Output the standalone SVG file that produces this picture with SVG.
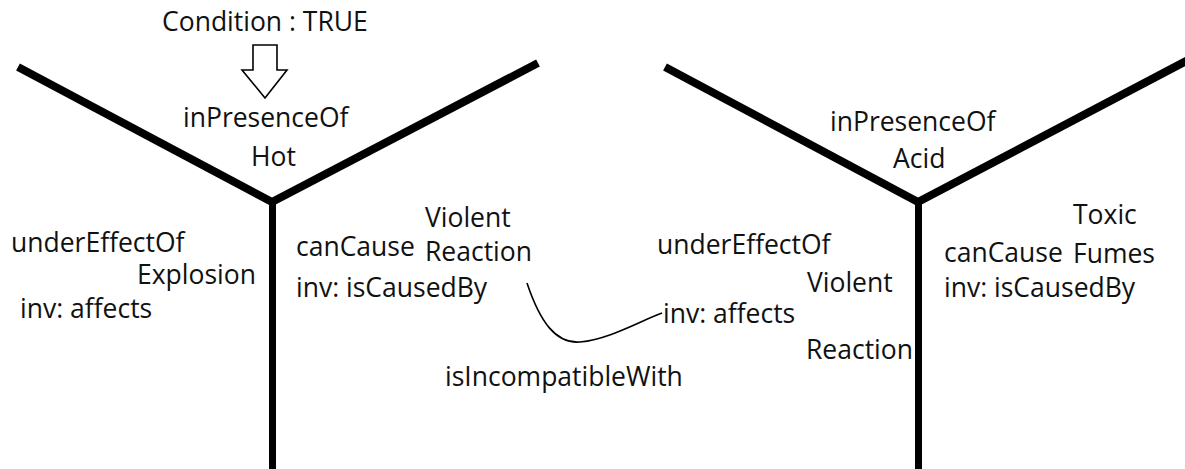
<svg xmlns="http://www.w3.org/2000/svg" width="1185" height="469" viewBox="0 0 1185 469">
  <style>
    .lbl { font-family: "Open Sans", "Liberation Sans", sans-serif; font-size: 26.5px; fill: #111; }
    .branch { fill: none; stroke: #000; stroke-width: 8; stroke-linejoin: miter; stroke-linecap: butt; }
    .stem { fill: none; stroke: #000; stroke-width: 7; }
    .link { fill: none; stroke: #000; stroke-width: 1.6; }
  </style>
  <rect width="1185" height="469" fill="#fff"/>

  <!-- left Y node: Hot / Explosion / Violent Reaction -->
  <g id="node-hot">
    <polyline class="branch" points="18,67 272,202 538,63"/>
    <line class="stem" x1="272.5" y1="200" x2="272.5" y2="469"/>
    <text class="lbl" x="162" y="31">Condition : TRUE</text>
    <polygon points="253,45 277,45 277,70 287,70 265,98 242,70 253,70" fill="#fff" stroke="#000" stroke-width="1.6"/>
    <text class="lbl" x="183" y="127">inPresenceOf</text>
    <text class="lbl" x="251" y="166">Hot</text>
    <text class="lbl" x="11" y="252">underEffectOf</text>
    <text class="lbl" x="137" y="284">Explosion</text>
    <text class="lbl" x="20" y="318">inv: affects</text>
    <text class="lbl" x="296" y="256">canCause</text>
    <text class="lbl" x="296" y="297">inv: isCausedBy</text>
    <text class="lbl" x="425" y="227">Violent</text>
    <text class="lbl" x="425" y="261">Reaction</text>
  </g>

  <!-- right Y node: Acid / Violent Reaction / Toxic Fumes -->
  <g id="node-acid">
    <polyline class="branch" points="665,67 918,202 1190,59"/>
    <line class="stem" x1="918.5" y1="200" x2="918.5" y2="469"/>
    <text class="lbl" x="830" y="131">inPresenceOf</text>
    <text class="lbl" x="893" y="168">Acid</text>
    <text class="lbl" x="657" y="254">underEffectOf</text>
    <text class="lbl" x="807" y="292">Violent</text>
    <text class="lbl" x="663" y="323">inv: affects</text>
    <text class="lbl" x="806" y="359">Reaction</text>
    <text class="lbl" x="944" y="262">canCause</text>
    <text class="lbl" x="944" y="297">inv: isCausedBy</text>
    <text class="lbl" x="1073" y="224">Toxic</text>
    <text class="lbl" x="1073" y="263">Fumes</text>
  </g>

  <!-- incompatibility link between the two Violent Reaction terms -->
  <g id="connectors">
    <path class="link" d="M527,283 C540,322 556,344 580,342 C610,339 640,321 662,313"/>
    <text class="lbl" x="445" y="386">isIncompatibleWith</text>
  </g>
</svg>
